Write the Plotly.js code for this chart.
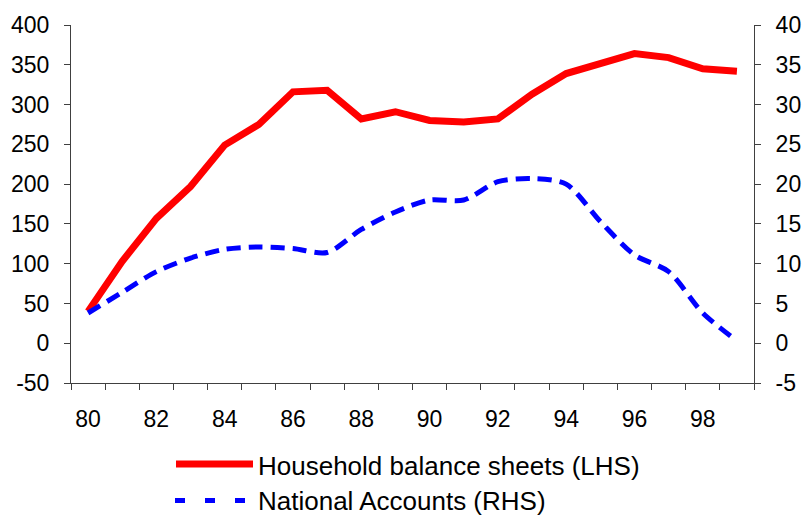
<!DOCTYPE html>
<html>
<head>
<meta charset="utf-8">
<script src="https://cdn.plot.ly/plotly-3.0.1.min.js"></script>
<style>
html,body{margin:0;padding:0;background:#fff;}
#chart{width:806px;height:515px;}
</style>
</head>
<body>
<div id="chart"></div>
<script>
// Data
const years = [80,81,82,83,84,85,86,87,88,89,90,91,92,93,94,95,96,97,98,99];
const householdLHS = [40,103,157,197,249,275,316,318,282,291,280,278,282,313,339,352,364,359,345,342];
const nationalRHS = [3.8,6.4,9.0,10.7,11.8,12.1,11.9,11.4,14.3,16.5,18.0,18.0,20.3,20.7,20.0,15.3,11.1,9.0,3.8,0.3];
const xTickVals = [80,82,84,86,88,90,92,94,96,98];
const xTickText = ["80","82","84","86","88","90","92","94","96","98"];
const leftTickVals = [-50,0,50,100,150,200,250,300,350,400];
const leftTickText = ["-50","0","50","100","150","200","250","300","350","400"];
const rightTickVals = [-5,0,5,10,15,20,25,30,35,40];
const rightTickText = ["-5","0","5","10","15","20","25","30","35","40"];
const seriesNames = ["Household balance sheets (LHS)", "National Accounts (RHS)"];

const font = {family: "Liberation Sans, Arial, sans-serif", color: "#000"};
const axisColor = "#404040";
const tickSize = 23;

const traces = [
  {x: years, y: householdLHS, name: seriesNames[0], type: "scatter", mode: "lines",
   line: {color: "#ff0000", width: 7}, yaxis: "y", showlegend: false},
  {x: years, y: nationalRHS, name: seriesNames[1], type: "scatter", mode: "lines",
   line: {color: "#0000ff", width: 5, dash: "14px,8px", shape: "spline", smoothing: 0.8}, yaxis: "y2", showlegend: false}
];

// plot area in pixels: x 71..754, y 25..383
const PL = 71, PR = 754, PT = 25, PB = 383;
const px = v => (v - PL) / (PR - PL);
const py = v => (PB - v) / (PB - PT);

const layout = {
  width: 806, height: 515,
  margin: {l: PL, r: 806 - PR, t: PT, b: 515 - PB},
  paper_bgcolor: "#fff", plot_bgcolor: "#fff",
  font: Object.assign({size: tickSize}, font),
  showlegend: false,
  xaxis: {
    range: [79.5, 99.5], tickvals: xTickVals, ticktext: xTickText,
    ticks: "", showgrid: false, zeroline: false,
    showline: true, linecolor: axisColor, linewidth: 1,
    tickfont: Object.assign({size: tickSize}, font),
    ticklabelstandoff: 15,
    minor: {ticks: "outside", ticklen: 6, tickcolor: axisColor, tickwidth: 1, tick0: 79.5, dtick: 1, showgrid: false}
  },
  yaxis: {
    range: [-50, 400], tickvals: leftTickVals, ticktext: leftTickText,
    ticks: "outside", ticklen: 6, tickcolor: axisColor,
    showgrid: false, zeroline: false,
    showline: true, linecolor: axisColor, linewidth: 1,
    tickfont: Object.assign({size: tickSize}, font),
    ticklabelstandoff: 10
  },
  yaxis2: {
    range: [-5, 40], tickvals: rightTickVals, ticktext: rightTickText,
    overlaying: "y", side: "right", anchor: "x",
    ticks: "outside", ticklen: 6, tickcolor: axisColor,
    showgrid: false, zeroline: false,
    showline: true, linecolor: axisColor, linewidth: 1,
    tickfont: Object.assign({size: tickSize}, font),
    ticklabelstandoff: 10
  },
  shapes: [
    {type: "line", xref: "paper", yref: "paper", x0: px(176), x1: px(253), y0: py(464), y1: py(464),
     line: {color: "#ff0000", width: 7}},
    {type: "line", xref: "paper", yref: "paper", x0: px(175), x1: px(247), y0: py(500.5), y1: py(500.5),
     line: {color: "#0000ff", width: 5, dash: "10px,20px"}}
  ],
  annotations: [
    {xref: "paper", yref: "paper", x: px(256), y: py(466), xanchor: "left", yanchor: "middle",
     text: seriesNames[0], showarrow: false, font: Object.assign({size: 26}, font)},
    {xref: "paper", yref: "paper", x: px(256), y: py(501), xanchor: "left", yanchor: "middle",
     text: seriesNames[1], showarrow: false, font: Object.assign({size: 26}, font)}
  ]
};

Plotly.newPlot("chart", traces, layout, {displayModeBar: false, staticPlot: true});
</script>
</body>
</html>
